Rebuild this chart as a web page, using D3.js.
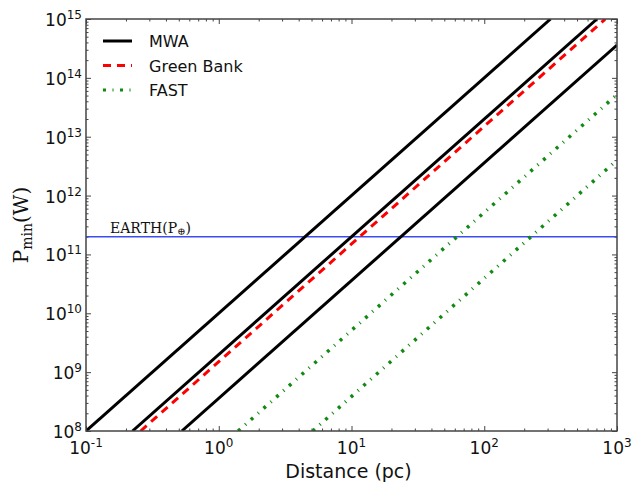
<!DOCTYPE html>
<html>
<head>
<meta charset="utf-8">
<script src="https://cdn.jsdelivr.net/npm/d3@7"></script>
<style>
  body { margin: 0; background: #fff; }
  svg { display: block; }
</style>
</head>
<body>
<svg id="chart" width="633" height="487"></svg>
<script>
// axis ranges and ticks
const xDomain = [0.1, 1000];
const yDomain = [1e8, 1e15];
const xTicks = [0.1, 1, 10, 100, 1000];
const xTickExp = ['-1', '0', '1', '2', '3'];
const yTicks = [1e8, 1e9, 1e10, 1e11, 1e12, 1e13, 1e14, 1e15];
const yTickExp = ['8', '9', '10', '11', '12', '13', '14', '15'];

// each curve is straight on log-log axes: two end points [distance (pc), Pmin (W)]
const mwaLines = [
  [[0.1, 1e8], [316, 1e15]],
  [[0.224, 1e8], [707, 1e15]],
  [[0.527, 1e8], [1000, 3.6e14]]
];
const greenBankLines = [
  [[0.258, 1e8], [816, 1e15]]
];
const fastLines = [
  [[1.4, 1e8], [1000, 5.2e13]],
  [[5.1, 1e8], [1000, 4e12]]
];
const earthPower = 2e11;

const legendLabels = ['MWA', 'Green Bank', 'FAST'];

const margin = { top: 19, right: 16, bottom: 56, left: 86 };
const width = 633, height = 487;
const innerW = width - margin.left - margin.right;
const innerH = height - margin.top - margin.bottom;

const svg = d3.select('#chart');
const g = svg.append('g').attr('transform', `translate(${margin.left},${margin.top})`);

const x = d3.scaleLog().domain(xDomain).range([0, innerW]);
const y = d3.scaleLog().domain(yDomain).range([innerH, 0]);

// minor ticks 2..9 of every decade
function minorTicks(domain) {
  const out = [];
  for (let e = Math.round(Math.log10(domain[0])); e < Math.round(Math.log10(domain[1])); e++) {
    for (let m = 2; m <= 9; m++) out.push(m * Math.pow(10, e));
  }
  return out;
}
const xMinor = minorTicks(xDomain);
const yMinor = minorTicks(yDomain);

const frameColor = '#444';
const fastDash = '3 6.5 1 6.5';
const gbDash = '8 6';

g.append('defs').append('clipPath').attr('id', 'clip')
  .append('rect').attr('width', innerW).attr('height', innerH);

// ticks on all four sides, pointing inward
function tickAxis(axisFn, scale, values, size, transform) {
  const a = g.append('g')
    .attr('transform', transform)
    .call(axisFn(scale).tickValues(values).tickSize(-size).tickFormat(''));
  a.select('.domain').remove();
  a.selectAll('line').attr('stroke', frameColor).attr('stroke-width', 1);
}
tickAxis(d3.axisBottom, x, xTicks, 5, `translate(0,${innerH})`);
tickAxis(d3.axisBottom, x, xMinor, 2.5, `translate(0,${innerH})`);
tickAxis(d3.axisTop, x, xTicks, 5, 'translate(0,0)');
tickAxis(d3.axisTop, x, xMinor, 2.5, 'translate(0,0)');
tickAxis(d3.axisLeft, y, yTicks, 5, 'translate(0,0)');
tickAxis(d3.axisLeft, y, yMinor, 2.5, 'translate(0,0)');
tickAxis(d3.axisRight, y, yTicks, 5, `translate(${innerW},0)`);
tickAxis(d3.axisRight, y, yMinor, 2.5, `translate(${innerW},0)`);

// tick labels with exponents
const tickFont = 'DejaVu Sans, Verdana, sans-serif';
const xl = g.append('g').selectAll('text')
  .data(xTicks)
  .join('text')
  .attr('x', d => x(d))
  .attr('y', innerH + 23)
  .attr('text-anchor', 'middle')
  .attr('font-family', tickFont)
  .attr('font-size', 17)
  .attr('fill', '#111');
xl.append('tspan').text('10');
xl.append('tspan').attr('dy', -7).attr('font-size', 12).text((d, i) => xTickExp[i]);

const yl = g.append('g').selectAll('text')
  .data(yTicks)
  .join('text')
  .attr('x', -4)
  .attr('y', d => y(d) + 7)
  .attr('text-anchor', 'end')
  .attr('font-family', tickFont)
  .attr('font-size', 17)
  .attr('fill', '#111');
yl.append('tspan').text('10');
yl.append('tspan').attr('dy', -7).attr('font-size', 12).text((d, i) => yTickExp[i]);

// axis titles
svg.append('text')
  .attr('x', margin.left + innerW / 2 - 3)
  .attr('y', 478)
  .attr('text-anchor', 'middle')
  .attr('font-family', tickFont)
  .attr('font-size', 19)
  .attr('fill', '#111')
  .text('Distance (pc)');

const yTitle = svg.append('text')
  .attr('transform', `translate(28,${margin.top + innerH / 2}) rotate(-90)`)
  .attr('text-anchor', 'middle')
  .attr('font-family', 'DejaVu Serif, serif')
  .attr('font-size', 20)
  .attr('fill', '#111');
yTitle.append('tspan').text('P');
yTitle.append('tspan').attr('dy', 4).attr('font-size', 14).text('min');
yTitle.append('tspan').attr('dy', -4).text('(W)');

// curves
const line = d3.line().x(d => x(d[0])).y(d => y(d[1]));
const plot = g.append('g').attr('clip-path', 'url(#clip)');

plot.append('line')
  .attr('x1', 0).attr('x2', innerW)
  .attr('y1', y(earthPower)).attr('y2', y(earthPower))
  .attr('stroke', '#3b4cf0')
  .attr('stroke-width', 1.5);

plot.selectAll('.mwa').data(mwaLines).join('path')
  .attr('class', 'mwa')
  .attr('d', line)
  .attr('fill', 'none')
  .attr('stroke', '#000')
  .attr('stroke-width', 3);

plot.selectAll('.gb').data(greenBankLines).join('path')
  .attr('class', 'gb')
  .attr('d', line)
  .attr('fill', 'none')
  .attr('stroke', '#ff0000')
  .attr('stroke-width', 3)
  .attr('stroke-dasharray', gbDash);

plot.selectAll('.fast').data(fastLines).join('path')
  .attr('class', 'fast')
  .attr('d', line)
  .attr('fill', 'none')
  .attr('stroke', '#108a10')
  .attr('stroke-width', 3.5)
  .attr('stroke-dasharray', fastDash);

// earth label
const earth = g.append('text')
  .attr('x', 24)
  .attr('y', y(earthPower) - 4)
  .attr('font-family', 'DejaVu Serif, serif')
  .attr('font-size', 14)
  .attr('fill', '#111');
earth.append('tspan').text('EARTH(P');
earth.append('tspan').attr('dy', 2).attr('font-size', 10).text('⊕');
earth.append('tspan').attr('dy', -2).text(')');

// frame
g.append('rect')
  .attr('width', innerW).attr('height', innerH)
  .attr('fill', 'none')
  .attr('stroke', frameColor)
  .attr('stroke-width', 1.5);

// legend
const legendStyles = [
  { color: '#000', dash: null },
  { color: '#ff0000', dash: gbDash },
  { color: '#108a10', dash: fastDash }
];
const ly = d3.scalePoint().domain(legendLabels).range([22, 71]);
const legend = g.append('g').selectAll('g')
  .data(legendLabels)
  .join('g')
  .attr('transform', d => `translate(0,${ly(d)})`);
legend.append('line')
  .attr('x1', 17).attr('x2', 46)
  .attr('stroke', (d, i) => legendStyles[i].color)
  .attr('stroke-width', 3)
  .attr('stroke-dasharray', (d, i) => legendStyles[i].dash);
legend.append('text')
  .attr('x', 63)
  .attr('y', 6)
  .attr('font-family', tickFont)
  .attr('font-size', 16)
  .attr('fill', '#111')
  .text(d => d);
</script>
</body>
</html>
